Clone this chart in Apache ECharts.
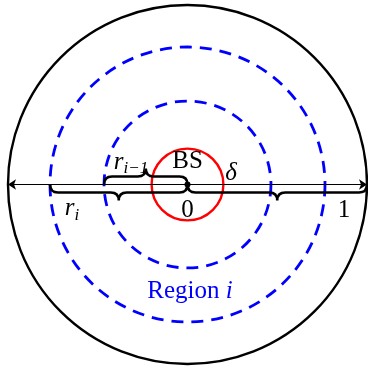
<!DOCTYPE html>
<html>
<head>
<meta charset="utf-8">
<script src="https://cdn.jsdelivr.net/npm/echarts@6/dist/echarts.min.js"></script>
<style>
  html, body { margin: 0; padding: 0; background: #fff; }
  #chart { width: 368px; height: 371px; }
</style>
</head>
<body>
<div id="chart"></div>
<script>
// Cell geometry, in units of the cell radius (cell edge = 1)
const circleNames  = ['cell', 'r_i', 'r_{i-1}', 'delta'];
const circleRadii  = [1, 0.766, 0.465, 0.2];

// Braces along the horizontal axis: [from, to, side] (side -1 = below, +1 = above)
const braceFrom = [-0.766, -0.465, 0];
const braceTo   = [0, 0, 1];
const braceSide = [-1, 1, -1];

// Text annotations: anchor in data units + text
const labelText = ['BS', 'δ', '0', '1', 'r_i', 'r_{i-1}', 'Region i'];
const labelX    = [0, 0.243, 0, 0.872, -0.643, -0.315, 0.014];
const labelY    = [0.128, 0.064, -0.147, -0.147, -0.136, 0.125, -0.593];

const SERIF = '"Liberation Serif", "Times New Roman", serif';
const circleStyles = [
  { stroke: '#000', lineWidth: 2.4, lineDash: null },
  { stroke: '#0000ff', lineWidth: 2.8, lineDash: [12, 8] },
  { stroke: '#0000ff', lineWidth: 2.8, lineDash: [12, 8] },
  { stroke: '#ff0000', lineWidth: 2.4, lineDash: null }
];

const labelFormat = {
  'BS': '{rm|BS}',
  'δ': '{it|δ}',
  '0': '{rm|0}',
  '1': '{rm|1}',
  'r_i': '{it|r}{sub|i}',
  'r_{i-1}': '{it|r}{sub|i−1}',
  'Region i': '{blue|Region }{blueit|i}'
};

const chart = echarts.init(document.getElementById('chart'), null, { renderer: 'canvas' });

function braceRender(params, api) {
  const a = api.coord([api.value(0), 0]);
  const b = api.coord([api.value(1), 0]);
  const d = -api.value(2); // screen direction (down = +)
  const h = 8;
  const x0 = a[0], x1 = b[0], y0 = a[1];
  const xm = (x0 + x1) / 2;
  const y1 = y0 + d * h, y2 = y0 + 2 * d * h;
  const p = [
    'M', x0, y0,
    'Q', x0, y1, x0 + h, y1,
    'L', xm - h, y1,
    'Q', xm, y1, xm, y2,
    'Q', xm, y1, xm + h, y1,
    'L', x1 - h, y1,
    'Q', x1, y1, x1, y0
  ].join(' ');
  return {
    type: 'path',
    shape: { pathData: p },
    style: { fill: 'none', stroke: '#000', lineWidth: 2.6 }
  };
}

function circleRender(params, api) {
  const c = api.coord([0, 0]);
  const r = api.size([api.value(0), 0])[0];
  const s = circleStyles[params.dataIndex];
  return {
    type: 'circle',
    shape: { cx: c[0], cy: c[1], r: r },
    style: { fill: 'none', stroke: s.stroke, lineWidth: s.lineWidth, lineDash: s.lineDash }
  };
}

chart.setOption({
  animation: false,
  backgroundColor: '#fff',
  grid: { left: 8, right: 1, top: 5, bottom: 7 },
  xAxis: { type: 'value', min: -1, max: 1, show: false },
  yAxis: { type: 'value', min: -1, max: 1, show: false },
  series: [
    {
      type: 'custom',
      name: 'circles',
      clip: false,
      renderItem: circleRender,
      data: circleRadii.map((r, i) => ({ name: circleNames[i], value: [r] }))
    },
    {
      type: 'lines',
      coordinateSystem: 'cartesian2d',
      symbol: ['arrow', 'arrow'],
      symbolSize: 8,
      lineStyle: { color: '#000', width: 1, opacity: 1, curveness: 0 },
      data: [{ coords: [[-1, 0], [1, 0]] }],
      silent: true
    },
    {
      type: 'custom',
      name: 'braces',
      clip: false,
      renderItem: braceRender,
      data: braceFrom.map((f, i) => [f, braceTo[i], braceSide[i]])
    },
    {
      type: 'scatter',
      symbolSize: 6,
      itemStyle: { color: '#000', opacity: 1 },
      data: [[0, 0]],
      silent: true
    },
    {
      type: 'scatter',
      symbolSize: 0,
      silent: true,
      itemStyle: { opacity: 1 },
      data: labelText.map((t, i) => ({ value: [labelX[i], labelY[i]], name: t })),
      label: {
        show: true,
        position: 'inside',
        opacity: 1,
        formatter: p => labelFormat[p.name],
        rich: {
          rm: { fontFamily: SERIF, fontSize: 25, color: '#000' },
          it: { fontFamily: SERIF, fontSize: 25, fontStyle: 'italic', color: '#000' },
          sub: { fontFamily: SERIF, fontSize: 17, fontStyle: 'italic', color: '#000', padding: [13, 0, 0, 0] },
          blue: { fontFamily: SERIF, fontSize: 25, color: '#0000ff' },
          blueit: { fontFamily: SERIF, fontSize: 25, fontStyle: 'italic', color: '#0000ff' }
        }
      }
    }
  ]
});
</script>
</body>
</html>
